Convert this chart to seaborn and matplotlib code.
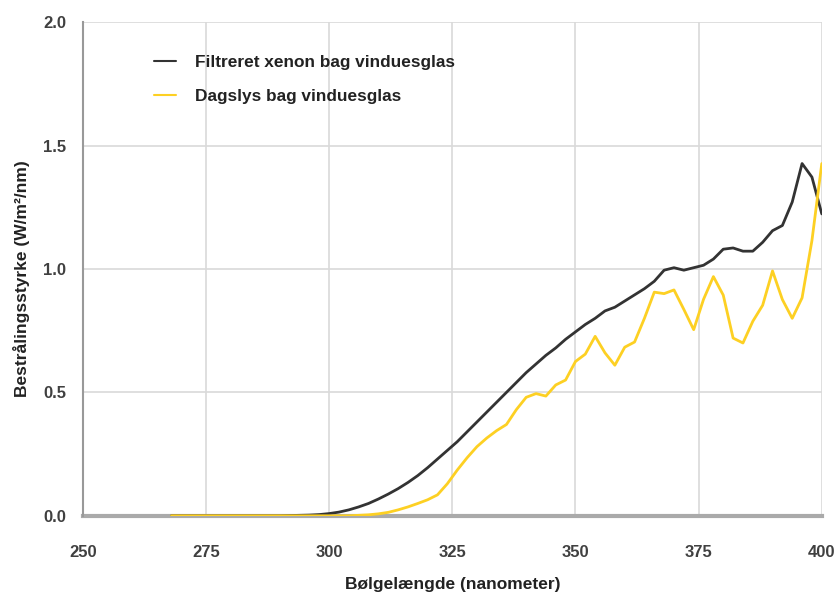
import numpy as np
import pandas as pd
import matplotlib
matplotlib.use("Agg")
import matplotlib.pyplot as plt
import seaborn as sns

# wavelengths (nm), 2 nm steps
wavelength = list(range(268, 401, 2))

xenon = [0.0] * 12 + [
    0.001, 0.002, 0.003, 0.005, 0.009, 0.015, 0.024, 0.036, 0.05, 0.068,
    0.088, 0.11, 0.135, 0.163, 0.195, 0.23, 0.265, 0.30, 0.34, 0.38,
    0.42, 0.46, 0.50, 0.54, 0.58, 0.615, 0.65, 0.68, 0.715, 0.745,
    0.775, 0.80, 0.83, 0.845, 0.87, 0.895, 0.92, 0.95, 0.995, 1.005,
    0.995, 1.005, 1.015, 1.04, 1.08, 1.085, 1.072, 1.072, 1.108, 1.155,
    1.176, 1.271, 1.427, 1.372, 1.223,
]

dagslys = [0.0] * 19 + [
    0.002, 0.004, 0.008, 0.014, 0.024, 0.036, 0.05, 0.065, 0.085, 0.13,
    0.185, 0.235, 0.28, 0.315, 0.345, 0.37, 0.43, 0.48, 0.495, 0.485,
    0.53, 0.55, 0.625, 0.655, 0.727, 0.66, 0.61, 0.683, 0.704, 0.80,
    0.906, 0.90, 0.915, 0.836, 0.754, 0.877, 0.969, 0.894, 0.72, 0.70,
    0.788, 0.853, 0.992, 0.876, 0.80, 0.883, 1.115, 1.427,
]

series_names = ["Filtreret xenon bag vinduesglas", "Dagslys bag vinduesglas"]
colors = ["#333333", "#fdd023"]

df = pd.concat([
    pd.DataFrame({"nm": wavelength, "val": xenon, "serie": series_names[0]}),
    pd.DataFrame({"nm": wavelength, "val": dagslys, "serie": series_names[1]}),
])

sns.set_style("white")
plt.rcParams["font.family"] = ["Liberation Sans", "DejaVu Sans"]

fig = plt.figure(figsize=(8.36, 5.97), dpi=100)
ax = fig.add_axes([0.099, 0.136, 0.884, 0.827])

sns.lineplot(data=df, x="nm", y="val", hue="serie", palette=colors,
             linewidth=2, ax=ax, zorder=3)

ax.set_xlim(250, 400)
ax.set_ylim(0, 2.0)
ax.set_xticks([250, 275, 300, 325, 350, 375, 400])
ax.set_yticks([0.0, 0.5, 1.0, 1.5, 2.0])
ax.set_yticklabels(["0.0", "0.5", "1.0", "1.5", "2.0"])
ax.grid(True, color="#d9d9d9", linewidth=1.2)
ax.set_axisbelow(True)

for s in ["top", "right"]:
    ax.spines[s].set_visible(False)
ax.spines["left"].set_color("#999999")
ax.spines["left"].set_linewidth(1.5)
ax.spines["bottom"].set_color("#aaaaaa")
ax.spines["bottom"].set_linewidth(3)
ax.spines["bottom"].set_zorder(2)

ax.tick_params(axis="both", length=0, labelsize=12, labelcolor="#404040")
ax.tick_params(axis="y", pad=12)
ax.tick_params(axis="x", pad=21)
for lab in ax.get_xticklabels() + ax.get_yticklabels():
    lab.set_fontweight("bold")

ax.set_xlabel("Bølgelængde (nanometer)", fontsize=12.5, fontweight="bold",
              color="#222222", labelpad=12)
ax.set_ylabel("Bestrålingsstyrke (W/m²/nm)", fontsize=12.5, fontweight="bold",
              color="#222222")
ax.yaxis.set_label_coords(-0.072, 0.48)

leg = ax.legend(loc="upper left", bbox_to_anchor=(0.075, 0.965), frameon=False,
                fontsize=12.4, handlelength=1.3, handletextpad=1.1,
                labelspacing=1.1, title=None)
for h in leg.legend_handles:
    h.set_linewidth(1.5)
for t in leg.get_texts():
    t.set_fontweight("bold")
    t.set_color("#222222")

fig.savefig("out.png", dpi=100, facecolor="white")
